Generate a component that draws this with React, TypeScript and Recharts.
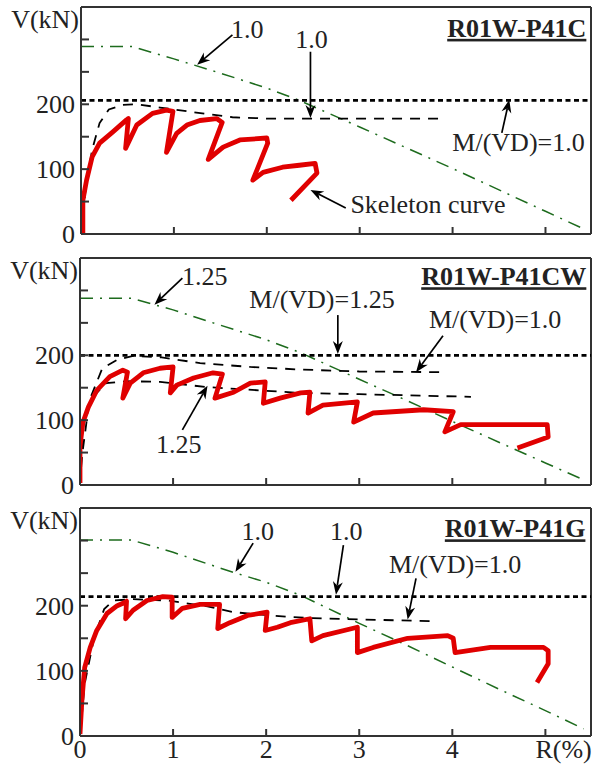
import { LineChart, Line, XAxis, YAxis, ReferenceLine, ReferenceDot } from 'recharts'

const FONT = '"Liberation Serif", "Times New Roman", serif'
const FS = 26
const X_MAX = 5.49
const Y_MAX = 350
const X_TICKS = [0, 1, 2, 3, 4, 5]
const X_LABELS = ['0', '1', '2', '3', '4', 'R(%)']
const Y_TICKS = [0, 50, 100, 150, 200, 250, 300]
const Y_LABELS = [0, 100, 200]

// R01W-P41C
const p1Skeleton: [number, number][] = [
  [0.02, 0], [0.02, 52], [0.06, 83], [0.12, 119], [0.2, 140], [0.34, 157], [0.49, 176], [0.51, 178],
  [0.48, 132], [0.6, 168], [0.77, 186], [0.92, 191], [0.99, 189],
  [0.92, 126], [1.03, 155], [1.14, 168], [1.28, 175], [1.46, 178], [1.52, 172],
  [1.37, 115], [1.53, 134], [1.71, 145], [2.0, 148], [2.01, 140],
  [1.85, 83], [1.96, 95], [2.17, 103], [2.35, 106], [2.52, 109], [2.54, 94], [2.26, 52],
]
const p1Envelope: [number, number][] = [
  [0, 0], [0.05, 70], [0.12, 130], [0.2, 171], [0.3, 192], [0.45, 199], [0.6, 200], [0.85, 195],
  [1.2, 188], [1.63, 180], [2.0, 178], [2.35, 178], [3.9, 178],
]
const p1Shear: [number, number][] = [
  [0, 289], [0.55, 289], [1.0, 270], [1.5, 248], [2.0, 225], [2.35, 206], [3.0, 165],
  [3.5, 133], [4.0, 101], [4.5, 68], [5.0, 35], [5.44, 6],
]
const p1Flexure = 206

// R01W-P41CW
const p2Skeleton: [number, number][] = [
  [0, 3], [0, 59], [0.03, 96], [0.09, 120], [0.18, 146], [0.32, 167], [0.46, 177], [0.51, 174],
  [0.46, 134], [0.54, 157], [0.68, 173], [0.86, 180], [1.0, 182],
  [0.97, 142], [1.04, 154], [1.22, 165], [1.43, 173], [1.53, 171],
  [1.45, 134], [1.65, 143], [1.83, 157], [1.99, 159],
  [1.97, 126], [2.15, 134], [2.37, 142], [2.47, 143],
  [2.45, 111], [2.61, 123], [2.98, 128],
  [2.94, 97], [3.15, 111], [3.69, 116], [4.01, 113],
  [3.92, 82], [4.09, 93], [5.02, 93], [5.03, 74], [4.7, 57],
]
const p2EnvelopeA: [number, number][] = [
  [0, 0], [0.02, 43], [0.1, 130], [0.24, 180], [0.4, 193], [0.57, 199], [0.86, 197],
  [1.29, 188], [1.83, 182], [2.37, 178], [3.0, 175], [3.89, 174],
]
const p2EnvelopeB: [number, number][] = [
  [0, 0], [0.04, 100], [0.14, 136], [0.28, 157], [0.5, 160], [0.86, 159], [1.36, 151],
  [2.37, 142], [3.0, 140], [4.2, 136],
]
const p2Shear: [number, number][] = [
  [0, 288], [0.55, 288], [1.0, 270], [1.43, 250], [2.0, 224], [2.37, 204], [3.0, 163],
  [3.5, 131], [4.0, 98], [4.5, 66], [5.0, 34], [5.41, 8],
]
const p2Flexure = 200

// R01W-P41G
const p3Skeleton: [number, number][] = [
  [0, 3], [0.02, 54], [0.05, 105], [0.11, 136], [0.18, 162], [0.29, 188], [0.4, 200], [0.48, 205], [0.5, 207],
  [0.49, 180], [0.57, 193], [0.72, 208], [0.89, 214], [0.99, 213],
  [0.99, 182], [1.1, 196], [1.29, 202], [1.5, 202],
  [1.48, 165], [1.61, 174], [1.8, 185], [2.01, 190],
  [1.99, 162], [2.12, 167], [2.26, 174], [2.47, 180],
  [2.49, 146], [2.61, 154], [2.98, 167],
  [2.98, 128], [3.15, 136], [3.52, 150], [3.95, 154], [4.01, 150],
  [4.03, 128], [4.41, 136], [4.98, 136], [5.03, 131], [5.03, 111], [4.91, 82],
]
const p3Envelope: [number, number][] = [
  [0, 0], [0.05, 80], [0.15, 150], [0.26, 195], [0.36, 208], [0.57, 210], [0.94, 208],
  [1.37, 199], [1.65, 190], [2.22, 183], [2.5, 181], [3.0, 179], [3.84, 176],
]
const p3Shear: [number, number][] = [
  [0, 301], [0.55, 301], [1.0, 282], [1.65, 251], [2.0, 236], [2.37, 216], [3.0, 173],
  [3.5, 140], [4.0, 106], [4.5, 72], [5.0, 39], [5.41, 11],
]
const p3Flexure = 214

type Note = { r: number; v: number; text: string; anchor?: 'start' | 'middle' | 'end' }
type Arrow = { from: [number, number]; to: [number, number] }

const p1Notes: Note[] = [
  { r: 1.79, v: 302, text: '1.0' },
  { r: 2.48, v: 287, text: '1.0' },
  { r: 4.71, v: 128, text: 'M/(VD)=1.0' },
  { r: 2.9, v: 32, text: 'Skeleton curve', anchor: 'start' },
]
const p1Arrows: Arrow[] = [
  { from: [1.63, 307], to: [1.25, 261] },
  { from: [2.47, 281], to: [2.47, 179] },
  { from: [4.53, 156], to: [4.61, 207] },
  { from: [2.85, 40], to: [2.47, 68] },
]
const p2Notes: Note[] = [
  { r: 1.34, v: 308, text: '1.25' },
  { r: 2.6, v: 273, text: 'M/(VD)=1.25' },
  { r: 4.46, v: 242, text: 'M/(VD)=1.0' },
  { r: 1.06, v: 49, text: '1.25' },
]
const p2Arrows: Arrow[] = [
  { from: [1.1, 319], to: [0.8, 278] },
  { from: [2.77, 262], to: [2.77, 202] },
  { from: [3.9, 230], to: [3.61, 174] },
  { from: [1.1, 85], to: [1.37, 153] },
]
const p3Notes: Note[] = [
  { r: 1.91, v: 301, text: '1.0' },
  { r: 2.86, v: 301, text: '1.0' },
  { r: 4.03, v: 250, text: 'M/(VD)=1.0' },
]
const p3Arrows: Arrow[] = [
  { from: [1.86, 296], to: [1.67, 252] },
  { from: [2.83, 293], to: [2.75, 217] },
  { from: [3.61, 242], to: [3.52, 179] },
]

const pts = (arr: [number, number][]) => arr.map(([r, v]) => ({ r, v }))

const YTick = (props: any) => {
  const { x, y, payload } = props
  if (!Y_LABELS.includes(payload.value)) return <g />
  return (
    <text x={x} y={y} dy="0.34em" textAnchor="end" fontFamily={FONT} fontSize={FS} fill="#222">
      {payload.value}
    </text>
  )
}

const XTick = (props: any) => {
  const { x, y, payload } = props
  const i = X_TICKS.indexOf(payload.value)
  const label = X_LABELS[i]
  const last = i === X_TICKS.length - 1
  return (
    <text x={last ? x - 10 : x} y={y + 22} textAnchor={last ? 'start' : 'middle'} fontFamily={FONT} fontSize={FS} fill="#222">
      {label}
    </text>
  )
}

const NoTick = () => <g />

const ArrowShape = (p: any) => {
  const { x1, y1, x2, y2 } = p
  const a = Math.atan2(y2 - y1, x2 - x1)
  const c = Math.cos(a), s = Math.sin(a)
  const L = 13, W = 5
  const bx = x2 - L * c, by = y2 - L * s
  const mx = x2 - (L - 4) * c, my = y2 - (L - 4) * s
  return (
    <g>
      <line x1={x1} y1={y1} x2={mx} y2={my} stroke="#000" strokeWidth={1.7} />
      <path d={`M${x2},${y2} L${bx - s * W},${by + c * W} L${mx},${my} L${bx + s * W},${by - c * W} Z`} fill="#000" />
    </g>
  )
}

type PanelProps = {
  top: number
  height: number
  axisLeft: number
  xHeight: number
  showX: boolean
  title: string
  titleAt: [number, number]
  skeleton: [number, number][]
  envelopes: [number, number][][]
  shear: [number, number][]
  flexure: number
  notes: Note[]
  arrows: Arrow[]
}

function Panel(p: PanelProps) {
  return (
    <div style={{ position: 'absolute', left: 0, top: p.top }}>
      <LineChart width={593} height={p.height} margin={{ top: 7, right: 2, left: 0, bottom: 0 }}>
        <XAxis
          dataKey="r"
          type="number"
          domain={[0, X_MAX]}
          ticks={X_TICKS}
          allowDataOverflow
          height={p.xHeight}
          tickSize={-7}
          tickMargin={7}
          axisLine={{ stroke: '#333', strokeWidth: 2 }}
          tickLine={{ stroke: '#333', strokeWidth: 2 }}
          tick={p.showX ? XTick : NoTick}
        />
        <YAxis
          type="number"
          domain={[0, Y_MAX]}
          ticks={Y_TICKS}
          allowDataOverflow
          width={p.axisLeft}
          tickSize={-8}
          tickMargin={14}
          axisLine={{ stroke: '#333', strokeWidth: 2 }}
          tickLine={{ stroke: '#333', strokeWidth: 2 }}
          tick={YTick}
        />
        <ReferenceLine y={Y_MAX} stroke="#333" strokeWidth={2} />
        <ReferenceLine x={X_MAX} stroke="#333" strokeWidth={2} />
        <Line data={pts(p.shear)} dataKey="v" type="linear" stroke="#1d6b1d" strokeWidth={1.5}
          strokeDasharray="13 7 2 7" dot={false} isAnimationActive={false} />
        <ReferenceLine y={p.flexure} stroke="#000" strokeWidth={2.8} strokeDasharray="5 3.5" />
        {p.envelopes.map((e, i) => (
          <Line key={i} data={pts(e)} dataKey="v" type="linear" stroke="#000" strokeWidth={1.8}
            strokeDasharray="10 8" dot={false} isAnimationActive={false} />
        ))}
        <Line data={pts(p.skeleton)} dataKey="v" type="linear" stroke="#e00000" strokeWidth={4.8}
          strokeLinejoin="round" dot={false} isAnimationActive={false} />
        {p.arrows.map((a, i) => (
          <ReferenceLine key={'a' + i} segment={[{ x: a.from[0], y: a.from[1] }, { x: a.to[0], y: a.to[1] }]}
            ifOverflow="visible" shape={ArrowShape} />
        ))}
        {p.notes.map((n, i) => (
          <ReferenceDot key={'n' + i} x={n.r} y={n.v} r={1} ifOverflow="visible"
            shape={(d: any) => (
              <text x={d.cx} y={d.cy} textAnchor={n.anchor ?? 'middle'} fontFamily={FONT} fontSize={FS} fill="#222">
                {n.text}
              </text>
            )} />
        ))}
        <ReferenceDot x={p.titleAt[0]} y={p.titleAt[1]} r={1} ifOverflow="visible"
          shape={(d: any) => (
            <text x={d.cx} y={d.cy} textAnchor="end" fontFamily={FONT} fontSize={FS} fontWeight="bold"
              textDecoration="underline" fill="#222">
              {p.title}
            </text>
          )} />
        <ReferenceDot x={0} y={Y_MAX} r={1} ifOverflow="visible"
          shape={(d: any) => (
            <text x={d.cx - 2} y={d.cy + 21} textAnchor="end" fontFamily={FONT} fontSize={FS} fill="#222">
              V(kN)
            </text>
          )} />
      </LineChart>
    </div>
  )
}

export default function App() {
  return (
    <div style={{ position: 'relative', width: 593, height: 764, background: '#fff' }}>
      <style>{'body{margin:0}'}</style>
      <Panel top={0} height={250} axisLeft={81} xHeight={16} showX={false} title="R01W-P41C" titleAt={[5.44, 304]}
        skeleton={p1Skeleton} envelopes={[p1Envelope]} shear={p1Shear} flexure={p1Flexure} notes={p1Notes} arrows={p1Arrows} />
      <Panel top={251} height={250} axisLeft={80} xHeight={16} showX={false} title="R01W-P41CW" titleAt={[5.44, 308]}
        skeleton={p2Skeleton} envelopes={[p2EnvelopeA, p2EnvelopeB]} shear={p2Shear} flexure={p2Flexure} notes={p2Notes} arrows={p2Arrows} />
      <Panel top={501} height={263} axisLeft={80} xHeight={28} showX title="R01W-P41G" titleAt={[5.43, 305]}
        skeleton={p3Skeleton} envelopes={[p3Envelope]} shear={p3Shear} flexure={p3Flexure} notes={p3Notes} arrows={p3Arrows} />
    </div>
  )
}
